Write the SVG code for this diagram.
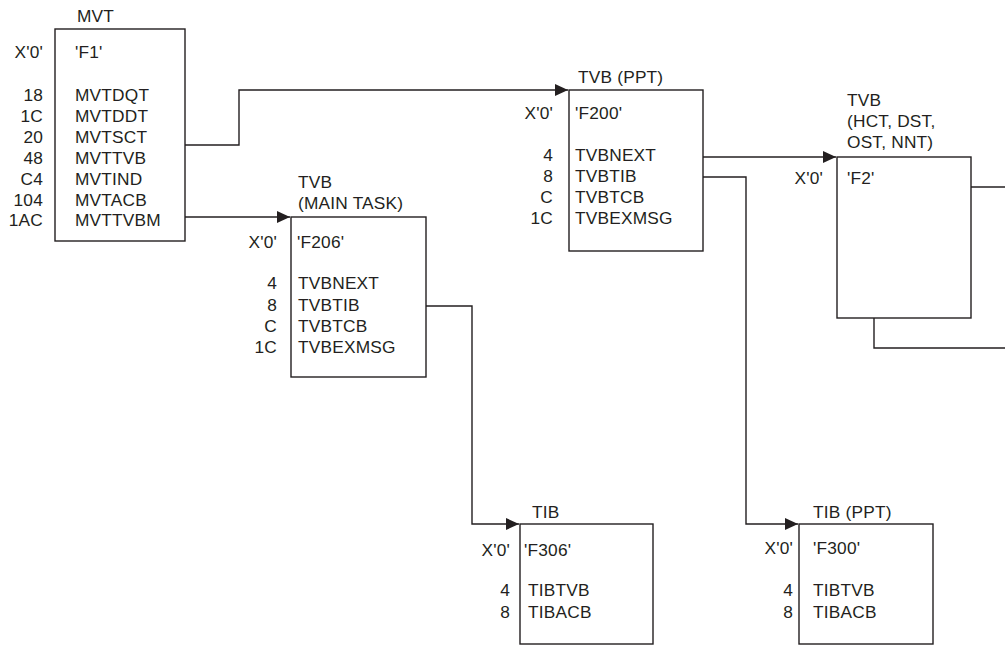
<svg xmlns="http://www.w3.org/2000/svg" width="1005" height="645" viewBox="0 0 1005 645">
<style>
  .box { fill: #fff; stroke: #231f20; stroke-width: 1.4; }
  .c { fill: none; stroke: #231f20; stroke-width: 1.4; }
  text { font-family: "Liberation Sans", Arial, sans-serif; font-size: 17.3px; fill: #231f20; letter-spacing: 0.2px; }
  .r { text-anchor: end; }
</style>
<defs>
  <marker id="arr" markerUnits="userSpaceOnUse" markerWidth="14" markerHeight="12" refX="13" refY="6" orient="auto">
    <path d="M0,0 L13,6 L0,12 z" fill="#231f20"/>
  </marker>
</defs>
<rect width="1005" height="645" fill="#fff"/>

<g id="connectors">
  <path class="c" d="M185,145 H239 V90 H568" marker-end="url(#arr)"/>
  <path class="c" d="M185,217 H290" marker-end="url(#arr)"/>
  <path class="c" d="M426,306 H472 V524 H519" marker-end="url(#arr)"/>
  <path class="c" d="M703,157 H836" marker-end="url(#arr)"/>
  <path class="c" d="M703,177 H746 V524 H798" marker-end="url(#arr)"/>
  <path class="c" d="M971,187 H1005"/>
  <path class="c" d="M874,318 V348 H1005"/>
</g>

<g id="mvt">
  <rect class="box" x="55" y="29" width="130" height="212"/>
  <text x="77" y="22">MVT</text>
  <text class="r" x="43" y="58">X'0'</text>
  <text x="75" y="58">'F1'</text>
  <text class="r" x="43" y="101">18</text><text x="75" y="101">MVTDQT</text>
  <text class="r" x="43" y="122">1C</text><text x="75" y="122">MVTDDT</text>
  <text class="r" x="43" y="143">20</text><text x="75" y="143">MVTSCT</text>
  <text class="r" x="43" y="164">48</text><text x="75" y="164">MVTTVB</text>
  <text class="r" x="43" y="185">C4</text><text x="75" y="185">MVTIND</text>
  <text class="r" x="43" y="206">104</text><text x="75" y="206">MVTACB</text>
  <text class="r" x="43" y="226">1AC</text><text x="75" y="226">MVTTVBM</text>
</g>

<g id="tvb-main">
  <rect class="box" x="291" y="217" width="135" height="160"/>
  <text x="298" y="188">TVB</text>
  <text x="298" y="209">(MAIN TASK)</text>
  <text class="r" x="277" y="248">X'0'</text>
  <text x="297" y="248">'F206'</text>
  <text class="r" x="277" y="289">4</text><text x="298" y="289">TVBNEXT</text>
  <text class="r" x="277" y="311">8</text><text x="298" y="311">TVBTIB</text>
  <text class="r" x="277" y="332">C</text><text x="298" y="332">TVBTCB</text>
  <text class="r" x="277" y="353">1C</text><text x="298" y="353">TVBEXMSG</text>
</g>

<g id="tvb-ppt">
  <rect class="box" x="569" y="90" width="134" height="161"/>
  <text x="578" y="83">TVB (PPT)</text>
  <text class="r" x="553" y="119">X'0'</text>
  <text x="575" y="119">'F200'</text>
  <text class="r" x="553" y="161">4</text><text x="575" y="161">TVBNEXT</text>
  <text class="r" x="553" y="182">8</text><text x="575" y="182">TVBTIB</text>
  <text class="r" x="553" y="203">C</text><text x="575" y="203">TVBTCB</text>
  <text class="r" x="553" y="224">1C</text><text x="575" y="224">TVBEXMSG</text>
</g>

<g id="tvb-hct">
  <rect class="box" x="837" y="157" width="134" height="161"/>
  <text x="847" y="106">TVB</text>
  <text x="847" y="127">(HCT, DST,</text>
  <text x="847" y="148">OST, NNT)</text>
  <text class="r" x="823" y="184">X'0'</text>
  <text x="847" y="184">'F2'</text>
</g>

<g id="tib">
  <rect class="box" x="520" y="524" width="133" height="120"/>
  <text x="532" y="518">TIB</text>
  <text class="r" x="510" y="556">X'0'</text>
  <text x="524" y="556">'F306'</text>
  <text class="r" x="510" y="596">4</text><text x="528" y="596">TIBTVB</text>
  <text class="r" x="510" y="618">8</text><text x="528" y="618">TIBACB</text>
</g>

<g id="tib-ppt">
  <rect class="box" x="799" y="524" width="134" height="120"/>
  <text x="813" y="518">TIB (PPT)</text>
  <text class="r" x="793" y="554">X'0'</text>
  <text x="813" y="554">'F300'</text>
  <text class="r" x="793" y="596">4</text><text x="813" y="596">TIBTVB</text>
  <text class="r" x="793" y="618">8</text><text x="813" y="618">TIBACB</text>
</g>
</svg>
